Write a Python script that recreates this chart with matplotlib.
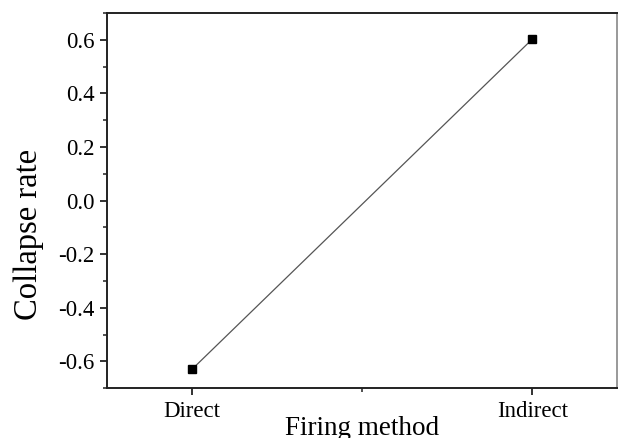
import matplotlib
matplotlib.use('Agg')
import matplotlib.pyplot as plt
from matplotlib.ticker import MultipleLocator, FixedLocator

# datos
methods = ["Direct", "Indirect"]
collapse = [-0.63, 0.603]
positions = [1, 2]

plt.rcParams['font.family'] = ['Liberation Serif', 'DejaVu Serif']

fig = plt.figure(figsize=(6.18, 4.38), dpi=100)
ax = fig.add_axes([0.173, 0.114, 0.826, 0.856])

ax.plot(positions, collapse, color='#555555', lw=0.9, marker='s',
        markersize=5.5, markerfacecolor='black', markeredgecolor='black')

ax.set_xlim(0.75, 2.25)
ax.set_ylim(-0.7, 0.7)
ax.set_xticks(positions)
ax.set_xticklabels(methods)
ax.xaxis.set_minor_locator(FixedLocator([1.5]))
ax.yaxis.set_major_locator(MultipleLocator(0.2))
ax.yaxis.set_minor_locator(MultipleLocator(0.1))
ax.yaxis.set_major_formatter(plt.FuncFormatter(lambda v, p: f"{v:.1f}"))

for s in ax.spines.values():
    s.set_linewidth(1.4)
    s.set_color('#222222')
ax.spines['right'].set_color('#999999')

ax.tick_params(which='major', direction='out', length=5, width=1.3,
               labelsize=16.5, colors='#222222', labelcolor='black', pad=4)
ax.tick_params(which='minor', direction='out', length=3, width=1.1,
               colors='#222222')

ax.set_xlabel("Firing method", fontsize=19.5, labelpad=-4)
ax.set_ylabel("Collapse rate", fontsize=23.5)
ax.yaxis.set_label_coords(-0.123, 0.41)

fig.savefig("out.png", dpi=100)
